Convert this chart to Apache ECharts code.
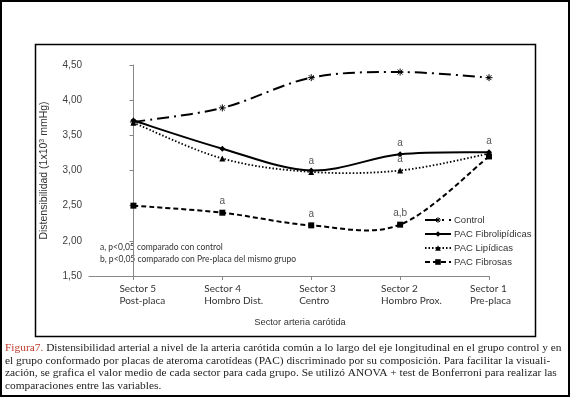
<!DOCTYPE html>
<html><head><meta charset="utf-8">
<script src="https://cdn.jsdelivr.net/npm/echarts@6/dist/echarts.min.js"></script>
<style>html,body{margin:0;padding:0;background:#fff}#c{width:574px;height:399px}</style>
</head><body><div id="c"></div>
<script>
const categories = ['Sector 5\nPost-placa', 'Sector 4\nHombro Dist.', 'Sector 3\nCentro', 'Sector 2\nHombro Prox.', 'Sector 1\nPre-placa'];
const seriesNames = ['Control', 'PAC Fibrolipídicas', 'PAC Lipídicas', 'PAC Fibrosas'];
const control = [3.69, 3.89, 4.32, 4.40, 4.32];
const fibrolipidicas = [3.71, 3.31, 3.00, 3.23, 3.26];
const lipidicas = [3.68, 3.17, 2.98, 3.00, 3.24];
const fibrosas = [2.50, 2.40, 2.22, 2.23, 3.20];
const controlNotes = ['', '', '', '', ''];
const fibrolipNotes = ['', '', '', 'a', 'a'];
const lipidNotes = ['', '', 'a', 'a', ''];
const fibrosasNotes = ['', 'a', 'a', 'a,b', ''];
const yMin = 1.5, yMax = 4.5, yStep = 0.5;
const noteLines = ['a, p<0,05 comparado con control', 'b, p<0,05 comparado con Pre-placa del mismo grupo'];
const captionLabel = 'Figura7.';
const captionLines = [
  ' Distensibilidad arterial a nivel de la arteria carótida común a lo largo del eje longitudinal en el grupo control y en',
  'el grupo conformado por placas de ateroma carotídeas (PAC) discriminado por su composición. Para facilitar la visuali-',
  'zación, se grafica el valor medio de cada sector para cada grupo. Se utilizó ANOVA + test de Bonferroni para realizar las',
  'comparaciones entre las variables.'
];

const catIdx = categories.map((_, i) => i);
const labelShift = [-14, -18, -12, -19, -19];
const catRich = {};
labelShift.forEach((s, i) => { catRich['c' + i] = { fontFamily: 'Lato', fontSize: 10, color: '#333', lineHeight: 12, align: 'left', padding: [0, 0, 0, s] }; });

function mk(vals, notes) {
  return vals.map((v, i) => {
    const d = { value: [i, v] };
    if (notes[i]) d.label = { show: true, formatter: notes[i] };
    return d;
  });
}
const styles = [
  { width: 2, dash: [12, 5, 2, 5] },
  { width: 2, dash: null },
  { width: 1.8, dash: [1.5, 2] },
  { width: 2, dash: [5, 3] }
];
const allVals = [control, fibrolipidicas, lipidicas, fibrosas];
const allNotes = [controlNotes, fibrolipNotes, lipidNotes, fibrosasNotes];
const symbols = ['path://M5,0L5,10M0,5L10,5M1.5,1.5L8.5,8.5M8.5,1.5L1.5,8.5', 'diamond', 'triangle', 'rect'];
const symSizes = [7, 6, 6, 6];
const labelCommon = { show: false, position: 'top', distance: 3, fontSize: 10, color: '#555', fontFamily: 'Liberation Sans' };

// Smooth curve (Catmull-Rom style, like spreadsheet smoothing) drawn via axis coordinates
function curveSeries(k) {
  const vals = allVals[k];
  return {
    type: 'custom', name: seriesNames[k] + ' curve', silent: true, z: 1,
    data: [0],
    renderItem: function (params, api) {
      const p = vals.map((v, i) => api.coord([i, v]));
      let d = 'M' + p[0][0] + ',' + p[0][1];
      for (let i = 0; i < p.length - 1; i++) {
        const p0 = p[Math.max(i - 1, 0)], p1 = p[i], p2 = p[i + 1], p3 = p[Math.min(i + 2, p.length - 1)];
        const c1 = [p1[0] + (p2[0] - p0[0]) / 6, p1[1] + (p2[1] - p0[1]) / 6];
        const c2 = [p2[0] - (p3[0] - p1[0]) / 6, p2[1] - (p3[1] - p1[1]) / 6];
        d += 'C' + c1[0] + ',' + c1[1] + ',' + c2[0] + ',' + c2[1] + ',' + p2[0] + ',' + p2[1];
      }
      return { type: 'path', shape: { pathData: d }, style: { fill: 'none', stroke: '#000', lineWidth: styles[k].width, lineDash: styles[k].dash } };
    }
  };
}

const series = [];
for (let k = 0; k < 4; k++) series.push(curveSeries(k));
for (let k = 0; k < 4; k++) {
  series.push({
    name: seriesNames[k], type: 'line', data: mk(allVals[k], allNotes[k]), symbol: symbols[k], symbolSize: symSizes[k], z: 3,
    lineStyle: { color: '#000', width: 0, opacity: 0 },
    itemStyle: { color: '#000', borderColor: '#000', borderWidth: k === 0 ? 1 : 0 },
    label: labelCommon
  });
}

const chart = echarts.init(document.getElementById('c'), null, { renderer: 'canvas' });
chart.setOption({
  animation: false,
  backgroundColor: '#fff',
  grid: { left: 89, right: 85, top: 65, bottom: 123 },
  xAxis: {
    type: 'value', min: -0.5, max: categories.length - 1,
    name: 'Sector arteria carótida', nameLocation: 'middle', nameGap: 42,
    nameTextStyle: { fontFamily: 'Liberation Sans', fontSize: 9.3, color: '#333', padding: [0, 0, 0, 22] },
    axisLine: { lineStyle: { color: '#888', width: 1 } },
    axisTick: { show: true, length: 4, lineStyle: { color: '#888' }, customValues: catIdx },
    axisLabel: { customValues: catIdx, formatter: v => { const i = Math.round(v); return categories[i] ? '{c' + i + '|' + categories[i] + '}' : ''; },
      rich: catRich, fontFamily: 'Lato', fontSize: 10, color: '#333', lineHeight: 12, margin: 7, align: 'left' },
    splitLine: { show: false }
  },
  yAxis: {
    type: 'value', min: yMin, max: yMax, interval: yStep,
    name: 'Distensibilidad (1x10{sup|3} mmHg)', nameLocation: 'middle', nameGap: 28, nameRotate: 90,
    nameTextStyle: { fontFamily: 'Liberation Sans', fontSize: 10.5, color: '#333', rich: { sup: { fontSize: 7, verticalAlign: 'top', lineHeight: 10, padding: [0, 0, 6, 0] } } },
    axisLine: { show: true, lineStyle: { color: '#888', width: 1 } },
    axisTick: { show: true, length: 4, lineStyle: { color: '#888' } },
    axisLabel: { formatter: v => v.toFixed(2).replace('.', ','), fontFamily: 'Liberation Sans', fontSize: 10, color: '#404040', margin: 7 },
    splitLine: { show: false }
  },
  legend: {
    orient: 'vertical', left: 424, top: 215, itemWidth: 26, itemHeight: 7, itemGap: 4, padding: 0,
    data: seriesNames.map((n, k) => ({
      name: n,
      lineStyle: { color: '#000', width: styles[k].width, opacity: 1, type: styles[k].dash || 'solid' },
      itemStyle: { color: '#000', borderColor: '#000', borderWidth: k === 0 ? 1 : 0 }
    })),
    textStyle: { fontFamily: 'Liberation Sans', fontSize: 9.5, color: '#333', padding: [0, 0, 0, -2] }
  },
  series: series,
  graphic: [
    { type: 'rect', shape: { x: 1, y: 1, width: 568, height: 395 }, style: { fill: 'none', stroke: '#000', lineWidth: 2 }, silent: true, z: -1 },
    { type: 'rect', shape: { x: 35.5, y: 44.5, width: 500, height: 292 }, style: { fill: 'none', stroke: '#000', lineWidth: 1.5 }, silent: true, z: -1 },
    { type: 'text', left: 100, top: 241, style: { text: noteLines.join('\n'), fontFamily: 'Lato', fontSize: 8.5, lineHeight: 12, fill: '#333' } },
    { type: 'text', left: 5, top: 342, style: {
        text: '{r|' + captionLabel + '}' + captionLines[0] + '\n' + captionLines.slice(1).join('\n'),
        fontFamily: 'Liberation Serif', fontSize: 11.4, lineHeight: 12.6, fill: '#222',
        rich: { r: { fill: '#c0392b', fontFamily: 'Liberation Serif', fontSize: 11.4 } } } }
  ]
});
</script></body></html>
